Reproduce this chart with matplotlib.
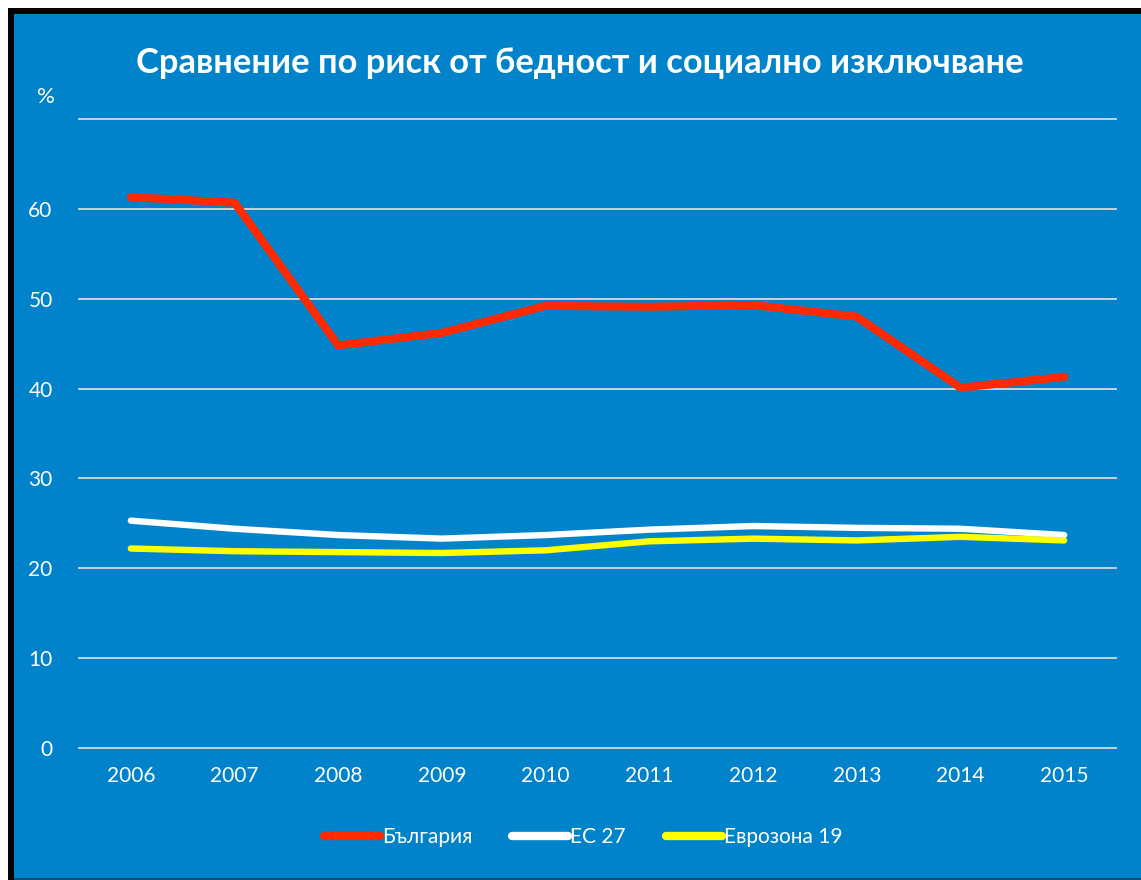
import matplotlib.pyplot as plt
from matplotlib.patches import Rectangle

# Data
years = ['2006', '2007', '2008', '2009', '2010', '2011', '2012', '2013', '2014', '2015']
bulgaria = [61.3, 60.7, 44.8, 46.2, 49.2, 49.1, 49.3, 48.0, 40.1, 41.3]
eu27 = [25.3, 24.4, 23.7, 23.3, 23.7, 24.3, 24.7, 24.5, 24.4, 23.7]
eurozone19 = [22.2, 21.9, 21.8, 21.7, 22.0, 23.0, 23.3, 23.1, 23.5, 23.1]

series_names = ['България', 'ЕС 27', 'Еврозона 19']
yticks = [0, 10, 20, 30, 40, 50, 60, 70]
ytick_labels = ['0', '10', '20', '30', '40', '50', '60', '']

BG = '#0083CB'
plt.rcParams['font.family'] = ['Lato', 'DejaVu Sans']

W, H = 1141, 880
fig = plt.figure(figsize=(W / 100, H / 100), dpi=100)
fig.patch.set_facecolor('white')

# frame: black border at top/left, blue panel
fig.patches.append(Rectangle((8 / W, 0), 1, (H - 8) / H, transform=fig.transFigure,
                             facecolor='black', edgecolor='none', zorder=-3))
fig.patches.append(Rectangle((14 / W, 0), 1, (H - 14) / H, transform=fig.transFigure,
                             facecolor='#0B4F7C', edgecolor='none', zorder=-2))
fig.patches.append(Rectangle((14 / W, 2 / H), 1, (H - 16) / H, transform=fig.transFigure,
                             facecolor=BG, edgecolor='none', zorder=-1))

ax = fig.add_axes([79 / W, (H - 748) / H, (1116 - 79) / W, (748 - 119) / H])
ax.set_facecolor('none')
x = list(range(len(years)))

ax.plot(x, bulgaria, color='#FF2A00', lw=5.8, solid_capstyle='round', solid_joinstyle='round',
        label=series_names[0], zorder=3)
ax.plot(x, eu27, color='white', lw=4.6, solid_capstyle='round', solid_joinstyle='round',
        label=series_names[1], zorder=2)
ax.plot(x, eurozone19, color='#FFFF00', lw=4.6, solid_capstyle='round', solid_joinstyle='round',
        label=series_names[2], zorder=2)

ax.set_xlim(-0.5, len(years) - 0.5)
ax.set_ylim(0, 70)
ax.set_yticks(yticks)
ax.set_yticklabels(ytick_labels)
ax.set_xticks(x)
ax.set_xticklabels(years)
ax.grid(axis='y', color='#D9D9D9', lw=1.3, zorder=0)
for gl in ax.get_ygridlines():
    gl.set_clip_on(False)
ax.set_axisbelow(True)
for s in ax.spines.values():
    s.set_visible(False)
ax.tick_params(length=0, colors='white', labelsize=15)
ax.tick_params(axis='y', pad=19)
ax.tick_params(axis='x', pad=13)

fig.text(46 / W, (H - 97) / H, '%', color='white', fontsize=16, ha='center', va='center')
fig.text(580 / W, (H - 63) / H, 'Сравнение по риск от бедност и социално изключване',
         color='white', fontsize=24.8, fontweight='bold', ha='center', va='center')

leg = fig.legend(loc='center', bbox_to_anchor=(583 / W, (H - 837) / H), ncol=3, frameon=False,
                 fontsize=15, labelcolor='white', handlelength=2.7, handletextpad=0.1,
                 columnspacing=1.9)
for line in leg.get_lines():
    line.set_linewidth(6)
    line.set_solid_capstyle('round')

fig.savefig('out.png', dpi=100, facecolor=fig.get_facecolor())
